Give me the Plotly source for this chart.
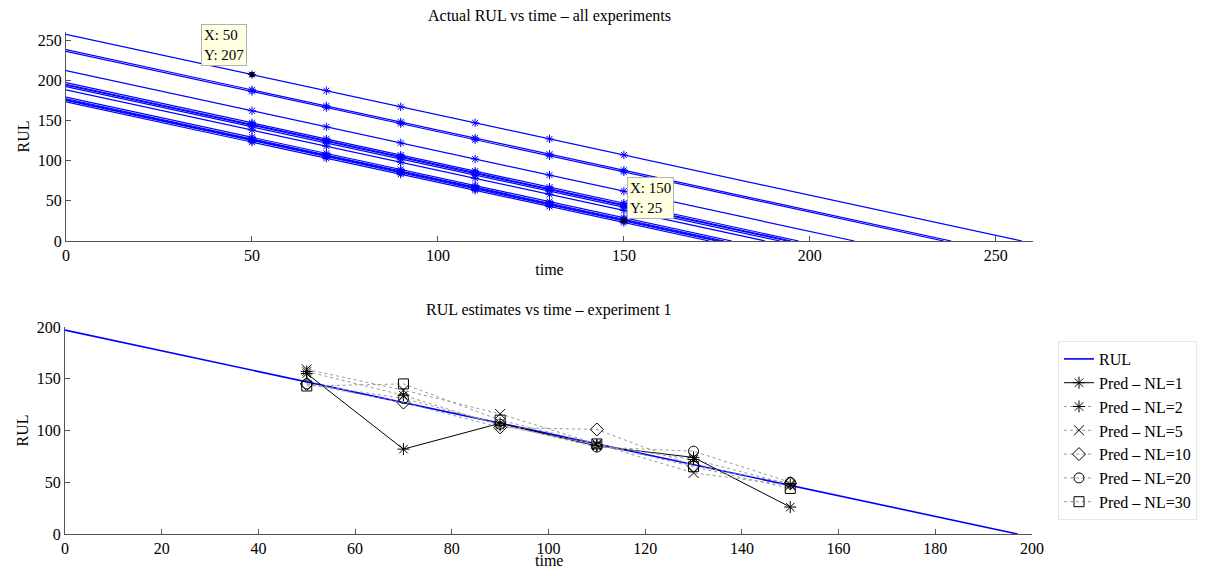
import plotly.graph_objects as go

# ---------------- data ----------------
# top: initial RUL of every experiment (RUL decreases 1 per time unit)
exp_initial_rul = [257, 238, 236, 212, 197, 195, 194, 192, 188, 179, 177, 176, 175, 173]
marker_times = [50, 70, 90, 110, 130, 150]

# data tips in top plot
tip_x = [50, 150]
tip_y = [207, 25]

# bottom: experiment 1
exp1_initial_rul = 197
pred_times = [50, 70, 90, 110, 130, 150]
pred_names = ["Pred – NL=1", "Pred – NL=2", "Pred – NL=5", "Pred – NL=10", "Pred – NL=20", "Pred – NL=30"]
pred_nl1 = [155, 82, 107, 85, 74, 26]
pred_nl2 = [157, 134, 105, 86, 72, 48]
pred_nl5 = [159, 139, 116, 87, 59, 47]
pred_nl10 = [145, 127, 103, 101, 66, 49]
pred_nl20 = [145, 131, 106, 84, 80, 50]
pred_nl30 = [143, 145, 110, 87, 65, 44]
pred_values = [pred_nl1, pred_nl2, pred_nl5, pred_nl10, pred_nl20, pred_nl30]
pred_symbols = ["asterisk-open", "asterisk-open", "x-thin-open", "diamond-open", "circle-open", "square-open"]

top_xticks = [0, 50, 100, 150, 200, 250]
top_yticks = [0, 50, 100, 150, 200, 250]
bot_xticks = [0, 20, 40, 60, 80, 100, 120, 140, 160, 180, 200]
bot_yticks = [0, 50, 100, 150, 200]

# ---------------- figure ----------------
FONT = "Liberation Serif"
FS = 16
OFF = 8  # page body margin
W, H = 1208 - 2 * OFF, 576 - 2 * OFF
fig = go.Figure()

BLUE = "#0000ff"
for r0 in exp_initial_rul:
    fig.add_trace(go.Scatter(x=[0, r0], y=[r0, 0], mode="lines",
                             line=dict(color=BLUE, width=1.2), showlegend=False,
                             xaxis="x", yaxis="y", hoverinfo="skip"))
    mt = [t for t in marker_times if t <= r0]
    fig.add_trace(go.Scatter(x=mt, y=[r0 - t for t in mt], mode="markers",
                             marker=dict(symbol="asterisk-open", size=7, color=BLUE,
                                         line=dict(color=BLUE, width=1)),
                             showlegend=False, xaxis="x", yaxis="y", hoverinfo="skip"))

fig.add_trace(go.Scatter(x=tip_x, y=tip_y, mode="markers",
                         marker=dict(symbol="square", size=5, color="black"),
                         showlegend=False, xaxis="x", yaxis="y"))

# bottom
fig.add_trace(go.Scatter(x=[0, exp1_initial_rul], y=[exp1_initial_rul, 0], mode="lines",
                         name="RUL", line=dict(color=BLUE, width=1.6),
                         xaxis="x2", yaxis="y2"))
for i, (nm, vals, sym) in enumerate(zip(pred_names, pred_values, pred_symbols)):
    if i == 0:
        line = dict(color="black", width=1)
    else:
        line = dict(color="#9a9a9a", width=1, dash="dot")
    fig.add_trace(go.Scatter(x=pred_times, y=vals, mode="lines+markers", name=nm,
                             line=line,
                             marker=dict(symbol=sym, size=10, color="black",
                                         line=dict(color="black", width=1)),
                             xaxis="x2", yaxis="y2"))

def px_x(p):
    return (p - OFF) / W

def px_y(p):
    return 1 - (p - OFF) / H

axis_common = dict(showgrid=False, zeroline=False, showline=True, linecolor="#555555",
                   linewidth=1, ticks="inside", ticklen=5, tickcolor="#555555",
                   tickfont=dict(family=FONT, size=FS, color="black"), mirror=False,
                   automargin=False)

fig.update_layout(
    width=W, height=H, margin=dict(l=0, r=0, t=0, b=0),
    paper_bgcolor="white", plot_bgcolor="white",
    font=dict(family=FONT, size=FS, color="black"),
    xaxis=dict(domain=[px_x(66), px_x(1033)], range=[0, 260], tickvals=top_xticks,
               anchor="y", title=dict(text="time", font=dict(family=FONT, size=FS), standoff=0),
               **axis_common),
    yaxis=dict(domain=[px_y(241), px_y(32)], range=[0, 260], tickvals=top_yticks,
               anchor="x", title=dict(text="RUL", font=dict(family=FONT, size=FS), standoff=4),
               **axis_common),
    xaxis2=dict(domain=[px_x(65), px_x(1032)], range=[0, 200], tickvals=bot_xticks,
                anchor="y2", **axis_common),
    yaxis2=dict(domain=[px_y(534), px_y(327)], range=[0, 200], tickvals=bot_yticks,
                anchor="x2", title=dict(text="RUL", font=dict(family=FONT, size=FS), standoff=4),
                **axis_common),
    legend=dict(x=px_x(1058), y=px_y(341), xanchor="left", yanchor="top",
                bgcolor="white", bordercolor="#e6e6e6", borderwidth=1,
                font=dict(family=FONT, size=FS, color="black"), tracegroupgap=0,
                itemwidth=30),
    showlegend=True,
)

fig.add_annotation(text="Actual RUL vs time – all experiments", xref="paper", yref="paper",
                   x=(px_x(66) + px_x(1033)) / 2, y=1, yshift=3, showarrow=False,
                   font=dict(family=FONT, size=FS), xanchor="center", yanchor="top")
fig.add_annotation(text="RUL estimates vs time – experiment 1", xref="paper", yref="paper",
                   x=(px_x(65) + px_x(1032)) / 2, y=px_y(310), showarrow=False,
                   font=dict(family=FONT, size=FS), xanchor="center", yanchor="middle")
fig.add_annotation(text="time", xref="paper", yref="paper",
                   x=(px_x(65) + px_x(1032)) / 2, y=0, yshift=-3, showarrow=False,
                   font=dict(family=FONT, size=FS), xanchor="center", yanchor="bottom")

tip_style = dict(showarrow=False, bgcolor="#ffffe1", bordercolor="#b0b0b0", borderwidth=1,
                 borderpad=2, font=dict(family=FONT, size=15, color="black"), align="left",
                 xref="x", yref="y")
fig.add_annotation(x=tip_x[0], y=tip_y[0], text=f"X: {tip_x[0]}<br>Y: {tip_y[0]}",
                   xanchor="right", yanchor="bottom", xshift=-5, yshift=9, **tip_style)
fig.add_annotation(x=tip_x[1], y=tip_y[1], text=f"X: {tip_x[1]}<br>Y: {tip_y[1]}",
                   xanchor="left", yanchor="bottom", xshift=3, yshift=2, **tip_style)

fig.write_html("out.html")
